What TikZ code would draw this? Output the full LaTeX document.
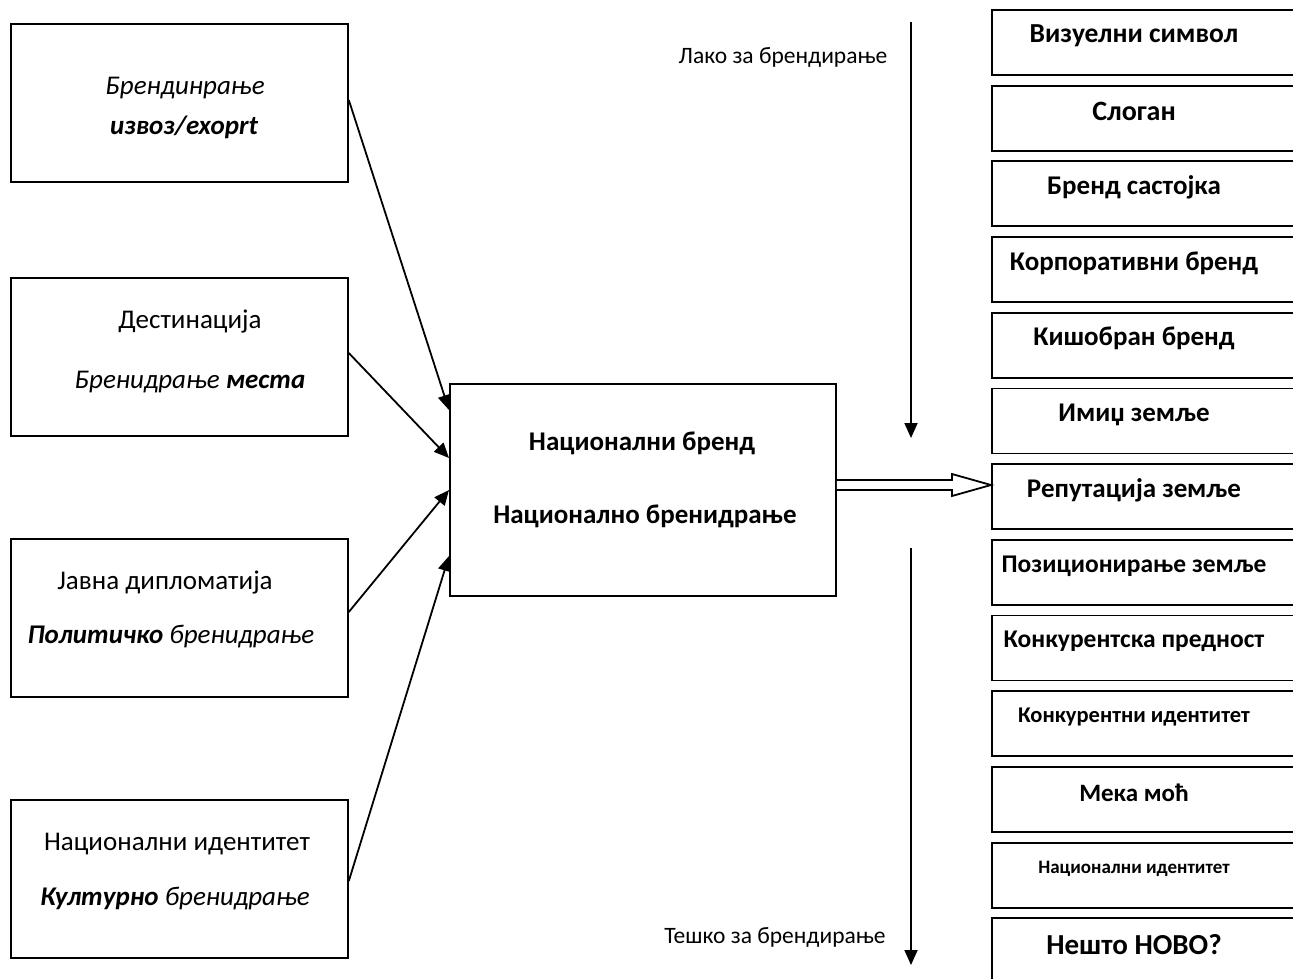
\documentclass[tikz,border=0pt]{standalone}
\usepackage{fontspec}
\setmainfont{Carlito}
\usetikzlibrary{arrows.meta}
\begin{document}
\begin{tikzpicture}[x=1pt,y=-1pt,
  lbox/.style={draw,line width=1.8pt,minimum width=337pt,minimum height=158pt,anchor=north west,inner sep=0pt},
  cbox/.style={draw,line width=1.8pt,minimum width=386pt,minimum height=212pt,anchor=north west,inner sep=0pt},
  rbox/.style={draw,line width=1.8pt,minimum width=320pt,minimum height=65pt,anchor=north west,inner sep=0pt},
  txt/.style={inner sep=0pt,font=\fontsize{27}{30}\selectfont},
  ctxt/.style={inner sep=0pt,font=\fontsize{27}{30}\bfseries\selectfont},
  lab/.style={inner sep=0pt,font=\fontsize{23.5}{26}\selectfont},
  conn/.style={line width=1.8pt,-{Triangle[length=15pt,width=13pt]}}]
\useasboundingbox (0,0) rectangle (1293,978);
% left boxes
\node[lbox] (b1) at (10,23) {};
\node[lbox] (b2) at (10,277) {};
\node[lbox] (b3) at (10,538) {};
\node[lbox] (b4) at (10,799) {};
\node[txt] (t1a) at (185,88) {\itshape Брендинрање};
\node[txt] (t1b) at (184,127) {\bfseries\itshape извоз/exoprt};
\node[txt] (t2a) at (190,322) {Дестинација};
\node[txt] (t2b) at (190,382) {\itshape Бренидрање \bfseries места};
\node[txt] (t3a) at (165,583) {Јавна дипломатија};
\node[txt] (t3b) at (171,637) {\itshape\bfseries Политичко \mdseries бренидрање};
\node[txt] (t4a) at (177,844) {Национални идентитет};
\node[txt] (t4b) at (175,899) {\itshape\bfseries Културно \mdseries бренидрање};
% center box
\node[cbox] (c) at (449,383) {};
\node[ctxt] (c1) at (642,443) {Национални бренд};
\node[ctxt] (c2) at (645,516) {Национално бренидрање};
% connectors
\coordinate (e1) at (449,410);
\coordinate (e2) at (449,458);
\coordinate (e3) at (449,490);
\coordinate (e4) at (449,556);
\draw[conn] (b1.east |- 0,100) -- (e1);
\draw[conn] (b2.east |- 0,353) -- (e2);
\draw[conn] (b3.east |- 0,612) -- (e3);
\draw[conn] (b4.east |- 0,881) -- (e4);
% right boxes
\foreach \i/\t/\f in {
 0/Визуелни символ/27.5,
 1/Слоган/28,
 2/Бренд састојка/27,
 3/Корпоративни бренд/27,
 4/Кишобран бренд/27,
 5/Имиџ земље/27,
 6/Репутација земље/27,
 7/Позиционирање земље/25.5,
 8/Конкурентска предност/25.5,
 9/Конкурентни идентитет/22.5,
 10/Мека моћ/25,
 11/Национални идентитет/19,
 12/Нешто НОВО?/29}{
  \node[rbox] (r\i) at (991,9+75.7*\i) {};
  \node[inner sep=0pt,font=\fontsize{\f}{\f}\bfseries\selectfont] (rt\i) at (1134,36+75.7*\i) {\t};
}
% double arrow
\draw[line width=1.8pt,fill=white] (c.east |- 0,480) -- (952,480) -- (952,474) -- (r6.west |- 0,485) -- (952,496) -- (952,490) -- (c.east |- 0,490);
% vertical arrows
\coordinate (v1s) at (911,22);
\coordinate (v1e) at (911,438);
\coordinate (v2s) at (911,548);
\coordinate (v2e) at (911,965);
\draw[conn] (v1s) -- (v1e);
\draw[conn] (v2s) -- (v2e);
\node[lab] (l1) at (783,57) {Лако за брендирање};
\node[lab] (l2) at (775,937) {Тешко за брендирање};
\end{tikzpicture}
\end{document}
